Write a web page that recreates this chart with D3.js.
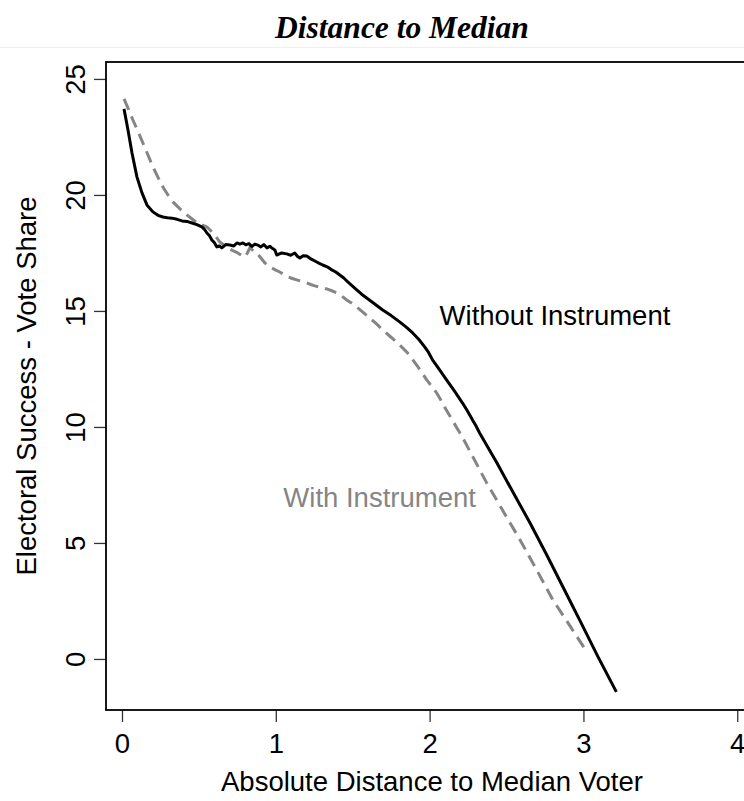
<!DOCTYPE html>
<html>
<head>
<meta charset="utf-8">
<script src="https://cdn.jsdelivr.net/npm/d3@7"></script>
<style>
  html, body { margin: 0; padding: 0; background: #fff; overflow: hidden; }
  svg { display: block; }
  text { font-family: "Liberation Sans", Arial, Helvetica, sans-serif; }
</style>
</head>
<body>
<svg id="chart" width="744" height="801"></svg>
<script>
// ---- data ----
const title = "Distance to Median";
const xLabel = "Absolute Distance to Median Voter";
const yLabel = "Electoral Success - Vote Share";
const xTicks = [0, 1, 2, 3, 4];
const yTicks = [0, 5, 10, 15, 20, 25];

const withoutX = [0.013,0.039,0.065,0.097,0.130,0.162,0.201,0.234,0.266,0.295,0.325,0.358,0.390,0.422,0.455,0.487,0.519,0.536,0.552,0.568,0.584,0.600,0.617,0.633,0.649,0.675,0.701,0.727,0.747,0.766,0.786,0.805,0.825,0.844,0.864,0.883,0.903,0.922,0.942,0.961,0.977,0.994,1.006,1.038,1.071,1.097,1.123,1.140,1.156,1.178,1.201,1.234,1.266,1.286,1.305,1.334,1.364,1.390,1.416,1.442,1.468,1.497,1.526,1.558,1.591,1.643,1.695,1.750,1.805,1.848,1.890,1.929,1.968,1.994,2.019,2.065,2.110,2.162,2.214,2.247,2.279,2.302,2.325,2.438,2.545,2.653,2.760,2.867,2.980,3.095,3.214];
const withoutY = [23.71,22.80,21.81,20.78,20.09,19.57,19.27,19.12,19.05,19.02,19.00,18.95,18.88,18.86,18.79,18.72,18.62,18.52,18.36,18.25,18.06,17.95,17.76,17.80,17.72,17.86,17.84,17.80,17.93,17.88,17.93,17.85,17.90,17.78,17.88,17.84,17.76,17.86,17.72,17.79,17.70,17.63,17.41,17.50,17.46,17.40,17.50,17.36,17.28,17.38,17.37,17.22,17.11,17.04,16.98,16.90,16.77,16.68,16.55,16.42,16.25,16.08,15.91,15.72,15.56,15.30,15.04,14.80,14.53,14.30,14.05,13.78,13.45,13.20,12.89,12.46,12.03,11.54,11.03,10.68,10.30,10.04,9.74,8.45,7.15,5.86,4.50,3.10,1.62,0.09,-1.42];

const withX = [0.013,0.042,0.071,0.104,0.136,0.169,0.201,0.234,0.266,0.299,0.331,0.377,0.422,0.464,0.506,0.529,0.552,0.571,0.591,0.614,0.636,0.662,0.688,0.721,0.753,0.776,0.799,0.815,0.831,0.854,0.877,0.903,0.929,0.951,0.974,1.000,1.026,1.052,1.078,1.107,1.136,1.169,1.201,1.227,1.253,1.292,1.331,1.364,1.396,1.429,1.461,1.494,1.526,1.568,1.610,1.653,1.695,1.740,1.786,1.821,1.857,1.886,1.916,1.948,1.981,2.013,2.045,2.071,2.097,2.156,2.214,2.370,2.480,2.588,2.695,2.802,2.905,3.006];
const withY = [24.14,23.70,23.23,22.74,22.24,21.72,21.21,20.76,20.34,20.00,19.70,19.40,19.14,18.92,18.71,18.68,18.62,18.50,18.36,18.17,17.97,17.84,17.72,17.60,17.50,17.40,17.33,17.50,17.72,17.60,17.50,17.28,17.07,16.95,16.85,16.76,16.68,16.57,16.47,16.40,16.34,16.27,16.21,16.14,16.08,16.02,15.95,15.87,15.78,15.64,15.47,15.33,15.17,14.94,14.70,14.45,14.18,13.92,13.66,13.43,13.19,12.94,12.67,12.36,12.03,11.76,11.47,11.18,10.86,10.20,9.55,7.60,6.35,5.13,3.85,2.54,1.50,0.47];

const withoutLabel = "Without Instrument";
const withLabel = "With Instrument";

// ---- drawing ----
const svg = d3.select("#chart");
const box = {left: 106, top: 62, right: 758, bottom: 710};
const sansFont = "'Liberation Sans', Arial, sans-serif";
const fs = "27.5px";

const x = d3.scaleLinear().domain([-0.104, 4.135]).range([box.left, box.right]);
const y = d3.scaleLinear().domain([-2.2, 25.73]).range([box.bottom, box.top]);

// faint separator line near title
svg.append("line").attr("x1", 0).attr("x2", 744).attr("y1", 47.5).attr("y2", 47.5)
  .attr("stroke", "#f0f0f0").attr("stroke-width", 1);

// title
svg.append("text")
  .attr("x", 402).attr("y", 38)
  .attr("text-anchor", "middle")
  .style("font-family", "'Liberation Serif', 'Times New Roman', serif")
  .style("font-weight", "bold").style("font-style", "italic")
  .style("font-size", "31.5px")
  .text(title);

// axes
const xAxis = d3.axisBottom(x).tickValues(xTicks).tickSize(12).tickPadding(11).tickFormat(d3.format("d"));
const gx = svg.append("g").attr("transform", `translate(0,${box.bottom})`).call(xAxis);
gx.select(".domain").remove();
gx.selectAll(".tick line").attr("stroke", "#333").attr("stroke-width", 1.3);
gx.selectAll(".tick text").style("font-size", fs).attr("fill", "#000")
  .style("font-family", sansFont);

const yAxis = d3.axisLeft(y).tickValues(yTicks).tickSize(12).tickFormat(d3.format("d"));
const gy = svg.append("g").attr("transform", `translate(${box.left},0)`).call(yAxis);
gy.select(".domain").remove();
gy.selectAll(".tick line").attr("stroke", "#333").attr("stroke-width", 1.3);
gy.selectAll(".tick text")
  .attr("x", null).attr("dy", null)
  .attr("text-anchor", "middle")
  .attr("transform", "translate(-21,0) rotate(-90)")
  .attr("y", 0)
  .style("font-size", fs).attr("fill", "#000")
  .style("font-family", sansFont);

// plot box
svg.append("rect")
  .attr("x", box.left).attr("y", box.top)
  .attr("width", box.right - box.left).attr("height", box.bottom - box.top)
  .attr("fill", "none").attr("stroke", "#000").attr("stroke-width", 1.8);

// axis titles
svg.append("text")
  .attr("x", (box.left + box.right) / 2).attr("y", 791)
  .attr("text-anchor", "middle").style("font-size", fs)
  .text(xLabel);
svg.append("text")
  .attr("transform", `translate(36,${(box.top + box.bottom) / 2}) rotate(-90)`)
  .attr("text-anchor", "middle").style("font-size", fs)
  .text(yLabel);

// lines
const line = d3.line().x(d => x(d[0])).y(d => y(d[1]));
const withData = withX.map((v, i) => [v, withY[i]]);
const withoutData = withoutX.map((v, i) => [v, withoutY[i]]);

svg.append("path").datum(withData).attr("d", line)
  .attr("fill", "none").attr("stroke", "#858585").attr("stroke-width", 3)
  .attr("stroke-dasharray", "12,7");
svg.append("path").datum(withoutData).attr("d", line)
  .attr("fill", "none").attr("stroke", "#000").attr("stroke-width", 3)
  .attr("stroke-linejoin", "round");

// curve labels
svg.append("text").attr("x", x(2.815)).attr("y", y(14.83)).attr("dy", "0.35em")
  .attr("text-anchor", "middle").style("font-size", fs).attr("fill", "#000")
  .text(withoutLabel);
svg.append("text").attr("x", x(1.675)).attr("y", y(6.98)).attr("dy", "0.35em")
  .attr("text-anchor", "middle").style("font-size", fs).attr("fill", "#858585")
  .text(withLabel);
</script>
</body>
</html>
